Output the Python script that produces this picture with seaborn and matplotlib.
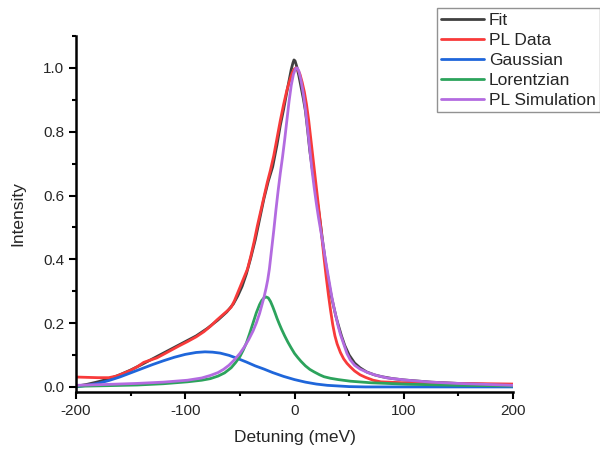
import numpy as np
import pandas as pd
import matplotlib
matplotlib.use('Agg')
import matplotlib.pyplot as plt
from matplotlib.ticker import MultipleLocator, FormatStrFormatter
import seaborn as sns

# values
fit_x = [-200, -190, -180, -170, -160, -150, -140, -130, -120, -110, -100, -90, -80, -70, -62, -56, -52, -48, -44,
         -40, -36, -32, -28, -24, -20, -16, -13, -10, -7, -5, -3, -1.5, -0.5, 0.5, 2, 4, 6, 8, 10, 12, 14, 16, 18,
         20, 22, 24, 26, 28, 30, 32, 34, 36, 38, 40, 43, 46, 50, 55, 60, 66, 73, 80, 90, 100, 125, 150, 175, 200]
fit_y = [0.002, 0.008, 0.016, 0.025, 0.038, 0.053, 0.07, 0.088, 0.106, 0.124, 0.142, 0.16, 0.183, 0.21, 0.235,
         0.26, 0.285, 0.315, 0.355, 0.405, 0.46, 0.525, 0.59, 0.645, 0.69, 0.76, 0.82, 0.87, 0.925, 0.96, 0.995,
         1.015, 1.025, 1.022, 1.005, 0.975, 0.94, 0.905, 0.865, 0.805, 0.74, 0.69, 0.645, 0.60, 0.555, 0.505, 0.45,
         0.40, 0.355, 0.315, 0.28, 0.25, 0.22, 0.195, 0.16, 0.13, 0.10, 0.075, 0.06, 0.047, 0.038, 0.032, 0.026,
         0.022, 0.015, 0.011, 0.008, 0.006]

pl_x = [-200, -190, -180, -170, -163, -157, -150, -144, -138, -132, -126, -120, -113, -106, -98, -90, -83, -77, -71,
        -65, -60, -58, -55, -52, -49, -46, -43, -40, -37, -34, -31, -28, -25, -22, -19, -16, -13, -10, -7, -4, -2,
        0, 1.5, 3, 5, 7, 9, 11, 13, 15, 17, 19, 21, 23, 25, 27, 29, 31, 33, 35, 37, 39, 42, 45, 48, 51, 55, 60,
        65, 72, 79, 100, 125, 150, 175, 200]
pl_y = [0.031, 0.03, 0.029, 0.029, 0.034, 0.042, 0.052, 0.063, 0.077, 0.084, 0.091, 0.102, 0.115, 0.128, 0.142,
        0.157, 0.173, 0.19, 0.21, 0.228, 0.243, 0.25, 0.27, 0.295, 0.32, 0.345, 0.37, 0.41, 0.455, 0.505, 0.55,
        0.595, 0.64, 0.68, 0.725, 0.78, 0.835, 0.885, 0.93, 0.965, 0.985, 0.997, 1.0, 0.995, 0.98, 0.955, 0.925,
        0.885, 0.835, 0.775, 0.715, 0.655, 0.595, 0.535, 0.47, 0.405, 0.345, 0.29, 0.24, 0.195, 0.16, 0.135,
        0.108, 0.088, 0.074, 0.063, 0.05, 0.038, 0.03, 0.021, 0.016, 0.013, 0.012, 0.011, 0.01, 0.009]

gauss_x = [-200, -190, -180, -170, -160, -150, -140, -130, -120, -110, -100, -90, -82, -75, -68, -60, -52, -44, -36,
           -28, -20, -10, 0, 10, 20, 30, 40, 50, 65, 100, 150, 200]
gauss_y = [0.0, 0.005, 0.011, 0.02, 0.031, 0.044, 0.057, 0.07, 0.082, 0.093, 0.102, 0.108, 0.11, 0.109, 0.106,
           0.099, 0.089, 0.078, 0.066, 0.056, 0.045, 0.033, 0.023, 0.015, 0.009, 0.005, 0.003, 0.001, 0.0, 0.0,
           0.0, 0.0]

lor_x = [-200, -170, -144, -120, -98, -85, -77, -70, -64, -58, -54, -50, -47, -44, -41, -38, -35, -32, -30, -28,
         -26, -24, -22, -20, -18, -16, -14, -12, -9, -6, -3, 0, 3, 6, 10, 14, 18, 23, 27, 33, 40, 51, 70, 103, 150,
         200]
lor_y = [0.002, 0.004, 0.006, 0.01, 0.016, 0.021, 0.026, 0.034, 0.044, 0.06, 0.076, 0.095, 0.115, 0.138, 0.168,
         0.20, 0.232, 0.258, 0.271, 0.279, 0.282, 0.279, 0.268, 0.252, 0.234, 0.215, 0.198, 0.182, 0.16, 0.14,
         0.122, 0.105, 0.092, 0.08, 0.066, 0.055, 0.047, 0.038, 0.032, 0.027, 0.023, 0.018, 0.013, 0.0085, 0.005,
         0.003]

sim_x = [-200, -170, -144, -120, -98, -85, -77, -70, -65, -60, -55, -50, -46, -42, -38, -35, -32, -30, -28, -26,
         -24.5, -23, -21, -19, -17, -15, -13, -11, -9, -7, -5, -3, -1, 1, 2.5, 4, 6, 8, 10, 12, 14, 16, 18, 20, 22,
         24, 26, 28, 30, 32, 34, 36, 38, 40, 42, 45, 48, 51, 55, 60, 67, 75, 85, 103, 125, 149, 175, 200]
sim_y = [0.005, 0.008, 0.011, 0.015, 0.021, 0.028, 0.036, 0.045, 0.055, 0.068, 0.085, 0.105, 0.125, 0.148, 0.175,
         0.20, 0.23, 0.255, 0.28, 0.31, 0.336, 0.37, 0.43, 0.49, 0.555, 0.615, 0.67, 0.72, 0.775, 0.835, 0.895,
         0.945, 0.98, 0.998, 1.0, 0.99, 0.96, 0.92, 0.87, 0.81, 0.745, 0.68, 0.625, 0.575, 0.53, 0.49, 0.45, 0.405,
         0.365, 0.325, 0.285, 0.25, 0.22, 0.19, 0.165, 0.135, 0.105, 0.085, 0.068, 0.056, 0.045, 0.036, 0.028,
         0.021, 0.015, 0.011, 0.008, 0.005]

names = ['Fit', 'PL Data', 'Gaussian', 'Lorentzian', 'PL Simulation']
colors = ['#404040', '#F83A3A', '#1F66DA', '#2CA35C', '#B36BE0']

frames = []
for n, xs, ys in zip(names, [fit_x, pl_x, gauss_x, lor_x, sim_x], [fit_y, pl_y, gauss_y, lor_y, sim_y]):
    frames.append(pd.DataFrame({'Detuning': xs, 'Intensity': ys, 'curve': n}))
df = pd.concat(frames, ignore_index=True)

sns.set_style('ticks')
plt.rcParams['font.family'] = ['Liberation Sans', 'DejaVu Sans']
plt.rcParams['axes.unicode_minus'] = False

fig = plt.figure(figsize=(6, 4.53), dpi=100)
ax = fig.add_axes([0.1267, 0.1353, 0.7283, 0.7852])

sns.lineplot(data=df, x='Detuning', y='Intensity', hue='curve', hue_order=names, palette=colors,
             estimator=None, sort=True, lw=2, legend=False, ax=ax)

ax.set_xlim(-200, 200)
ax.set_ylim(-0.015, 1.1)
ax.xaxis.set_major_locator(MultipleLocator(100))
ax.xaxis.set_minor_locator(MultipleLocator(50))
ax.yaxis.set_major_locator(MultipleLocator(0.2))
ax.yaxis.set_minor_locator(MultipleLocator(0.1))
ax.yaxis.set_major_formatter(FormatStrFormatter('%.1f'))
ax.tick_params(which='major', length=5, width=1.5, labelsize=11, color='black')
ax.tick_params(which='minor', length=3, width=1.5, color='black')
sns.despine(ax=ax)
for s in ['left', 'bottom']:
    ax.spines[s].set_linewidth(1.8)
    ax.spines[s].set_color('black')
ax.set_xlabel('Detuning (meV)', fontsize=12.5, labelpad=9)
ax.set_ylabel('Intensity', fontsize=12.5, labelpad=13)

leg = fig.legend(handles=ax.get_lines()[:5], labels=names, loc='lower left',
                 bbox_to_anchor=(437 / 600, 1 - 112 / 453), bbox_transform=fig.transFigure,
                 fontsize=12.5, frameon=True, fancybox=False, borderpad=0.25, labelspacing=0.28,
                 handlelength=2.45, handletextpad=0.3, borderaxespad=0)
leg.get_frame().set_edgecolor('#777777')
leg.get_frame().set_linewidth(1.0)

fig.savefig('out.png', dpi=100)
